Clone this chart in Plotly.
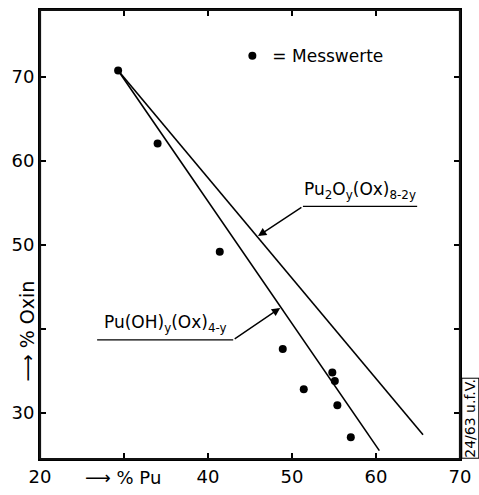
import plotly.graph_objects as go

# Measured values (% Pu vs % Oxin)
pu_meas = [29.3, 34.0, 41.4, 48.9, 51.4, 54.8, 55.1, 55.4, 57.0]
oxin_meas = [70.8, 62.1, 49.2, 37.6, 32.8, 34.8, 33.8, 30.9, 27.1]

# Theoretical lines
pu_oh_x = [29.3, 60.4]
pu_oh_y = [70.8, 25.5]
pu2o_x = [29.3, 65.6]
pu2o_y = [70.8, 27.4]

x_ticks = [20, 30, 40, 50, 60, 70]
x_ticktext = ["20", "", "40", "50", "60", "70"]
y_ticks = [30, 40, 50, 60, 70]
y_ticktext = ["30", "", "50", "60", "70"]

FONT = "DejaVu Sans"
fig = go.Figure()

fig.add_trace(go.Scatter(x=pu_oh_x, y=pu_oh_y, mode="lines",
                         line=dict(color="black", width=1.6), showlegend=False, hoverinfo="skip"))
fig.add_trace(go.Scatter(x=pu2o_x, y=pu2o_y, mode="lines",
                         line=dict(color="black", width=1.6), showlegend=False, hoverinfo="skip"))
fig.add_trace(go.Scatter(x=pu_meas, y=oxin_meas, mode="markers", name="= Messwerte",
                         marker=dict(color="black", size=8)))

# Frame (as four edge lines in plot-area coordinates)
for (a0, b0, a1, b1) in [(0, 0, 1, 0), (0, 1, 1, 1), (0, 0, 0, 1), (1, 0, 1, 1)]:
    fig.add_shape(type="line", xref="paper", yref="paper", x0=a0, y0=b0, x1=a1, y1=b1,
                  line=dict(color="#111111", width=2.2), layer="above")

# Label 1: Pu2Oy(Ox)8-2y
fig.add_shape(type="line", x0=51.3, y0=54.6, x1=64.9, y1=54.6, xref="x", yref="y",
              line=dict(color="black", width=1.4))
fig.add_annotation(x=45.95, y=51.06, ax=51.3, ay=54.6, axref="x", ayref="y", xref="x", yref="y",
                   text="", showarrow=True, arrowhead=2, arrowsize=1.2, arrowwidth=1.4, arrowcolor="black",
                   standoff=0)
fig.add_annotation(x=58.1, y=54.9, xref="x", yref="y", yanchor="bottom", showarrow=False,
                   text="Pu<sub>2</sub>O<sub>y</sub>(Ox)<sub>8-2y</sub>",
                   font=dict(family=FONT, size=17, color="black"))

# Label 2: Pu(OH)y(Ox)4-y
fig.add_shape(type="line", x0=26.8, y0=38.7, x1=43.0, y1=38.7, xref="x", yref="y",
              line=dict(color="black", width=1.4))
fig.add_annotation(x=48.6, y=42.5, ax=43.0, ay=38.7, axref="x", ayref="y", xref="x", yref="y",
                   text="", showarrow=True, arrowhead=2, arrowsize=1.2, arrowwidth=1.4, arrowcolor="black",
                   standoff=0)
fig.add_annotation(x=34.9, y=39.0, xref="x", yref="y", yanchor="bottom", showarrow=False,
                   text="Pu(OH)<sub>y</sub>(Ox)<sub>4-y</sub>",
                   font=dict(family=FONT, size=17, color="black"))

# Axis titles
fig.add_annotation(x=29.9, y=0.0, xref="x", yref="paper", yanchor="top", yshift=-6, showarrow=False,
                   text="⟶ % Pu", font=dict(family=FONT, size=18, color="black"))
fig.add_annotation(x=-0.031, y=39.8, xref="paper", yref="y", xanchor="center", showarrow=False,
                   text="⟶ % Oxin", textangle=-90, font=dict(family=FONT, size=19, color="black"))
# right-hand reference code
fig.add_annotation(x=1.0, y=29.3, xref="paper", yref="y", xanchor="left", xshift=1, showarrow=False,
                   text="24/63 u.f.V.", textangle=-90, bordercolor="black", borderwidth=1, borderpad=0,
                   font=dict(family=FONT, size=14, color="black"))

fig.update_xaxes(range=[20, 70], tickvals=x_ticks, ticktext=x_ticktext, ticks="inside", ticklen=6,
                 tickwidth=1.5, tickcolor="black", showline=True, linecolor="black", linewidth=2,
                 mirror="allticks", showgrid=False, zeroline=False,
                 tickfont=dict(family=FONT, size=18, color="black"))
fig.update_yaxes(range=[24.5, 78], tickvals=y_ticks, ticktext=y_ticktext, ticks="inside", ticklen=6,
                 tickwidth=1.5, tickcolor="black", showline=True, linecolor="black", linewidth=2,
                 mirror="allticks", showgrid=False, zeroline=False,
                 tickfont=dict(family=FONT, size=18, color="black"))

fig.update_layout(width=479, height=495, margin=dict(l=40, r=18, t=8, b=32),
                  paper_bgcolor="white", plot_bgcolor="white",
                  showlegend=True,
                  legend=dict(x=0.458, y=0.897, xanchor="left", yanchor="middle",
                              bgcolor="rgba(0,0,0,0)", font=dict(family=FONT, size=17, color="black")))

fig.write_html("out.html")
